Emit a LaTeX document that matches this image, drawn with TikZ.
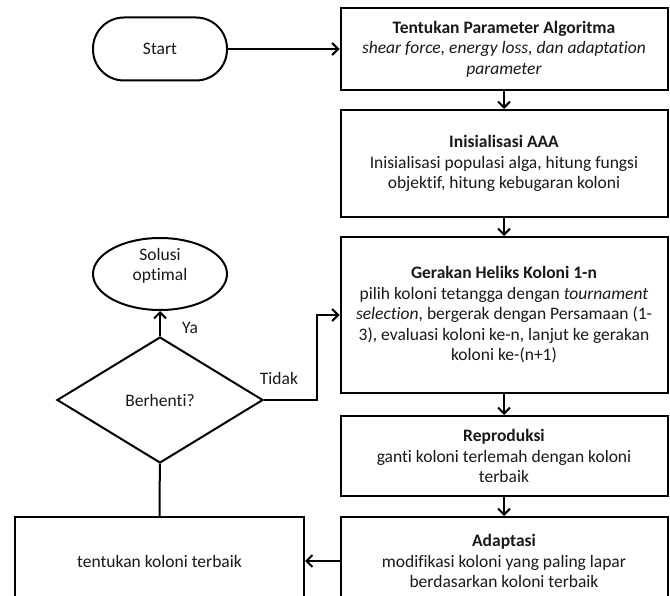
\documentclass[tikz,border=0pt]{standalone}
\usepackage{fontspec}
\setmainfont{Carlito}[Ligatures=NoCommon]
\usetikzlibrary{arrows.meta,shapes.geometric,calc}
\begin{document}
\begin{tikzpicture}[x=1pt,y=-1pt,
  every node/.style={font=\fontsize{17.5}{20.5}\selectfont, text=black!90},
  box/.style={draw, line width=2pt, minimum width=327pt, inner sep=0pt, align=center},
  arr/.style={line width=2pt, -{Straight Barb[length=6pt,width=12pt,line width=2pt]}},
  ln/.style={line width=2pt},
  lbl/.style={inner sep=0pt}]
\clip (0,0) rectangle (670,596);
\fill[white] (0,0) rectangle (670,596);
\node[draw, line width=2pt, minimum width=134pt, minimum height=63pt, rounded corners=31pt] (start) at (160,49) {Start};
\node[box, minimum height=82pt] (b1) at (504,49) {\textbf{Tentukan Parameter Algoritma}\\ \textit{shear force, energy loss, dan adaptation}\\ \textit{parameter}};
\node[box, minimum height=107pt] (b2) at (504,163.5) {\textbf{Inisialisasi AAA}\\ Inisialisasi populasi alga, hitung fungsi\\ objektif, hitung kebugaran koloni};
\node[box, minimum height=156pt] (b3) at (504,315) {\textbf{Gerakan Heliks Koloni 1-n}\\ pilih koloni tetangga dengan \textit{tournament}\\ \textit{selection}, bergerak dengan Persamaan (1-\\ 3), evaluasi koloni ke-n, lanjut ke gerakan\\ koloni ke-(n+1)};
\node[box, minimum height=80pt] (b4) at (504,456) {\textbf{Reproduksi}\\ ganti koloni terlemah dengan koloni\\ terbaik};
\node[box, minimum height=88pt] (b5) at (504,561) {\textbf{Adaptasi}\\ modifikasi koloni yang paling lapar\\ berdasarkan koloni terbaik};
\node[box, minimum width=289pt, minimum height=88pt] (best) at (159.5,561) {tentukan koloni terbaik};
\node[draw, diamond, line width=2pt, minimum width=206pt, minimum height=126pt, aspect=1.63, inner sep=0pt] (dia) at (160,400) {Berhenti?};
\node[draw, ellipse, line width=2pt, minimum width=134pt, minimum height=72pt, inner sep=0pt] (sol) at (160,274) {};
\node[lbl, align=center] (soltext) at (160,266) {Solusi\\ optimal};
\draw[arr] (start) -- (b1);
\draw[arr] (b1) -- (b2);
\draw[arr] (b2) -- (b3);
\draw[arr] (b3) -- (b4);
\draw[arr] (b4) -- (b5);
\draw[arr] (b5) -- (best);
\draw[ln] (best) -- (dia);
\draw[arr] (dia) -- (sol);
\draw[arr] (dia.east) -- ++(53,0) |- (b3.west);
\node[lbl] (ya) at (190,328) {Ya};
\node[lbl] (tidak) at (279,378) {Tidak};
\end{tikzpicture}
\end{document}
